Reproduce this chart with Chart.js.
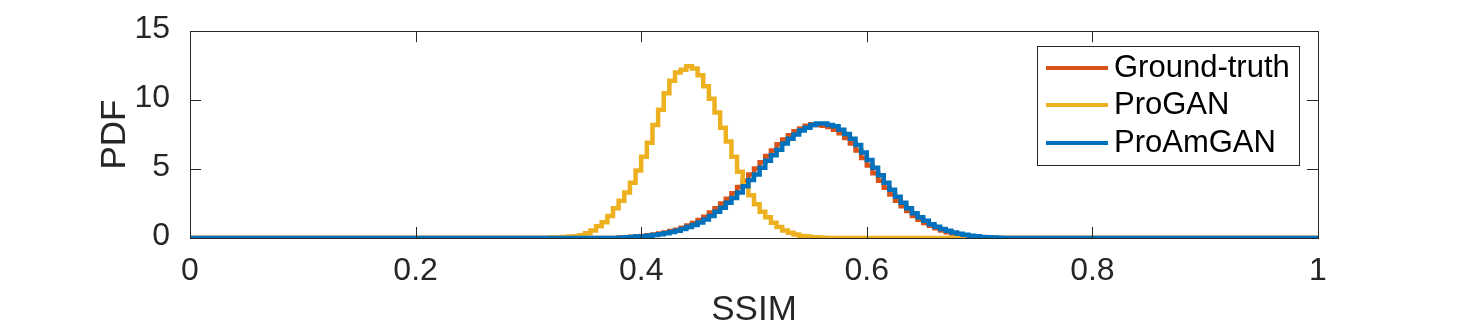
<!DOCTYPE html>
<html>
<head>
<meta charset="utf-8">
<script src="https://cdn.jsdelivr.net/npm/chart.js@4/dist/chart.umd.min.js"></script>
<style>
  html, body { margin: 0; padding: 0; background: #fff; }
  canvas { display: block; }
</style>
</head>
<body>
<canvas id="pdfChart" width="1458" height="333"></canvas>
<script>
(function() {
    'use strict';

    // tick labels
    const xTickValues = [0, 0.2, 0.4, 0.6, 0.8, 1];
    const yTickValues = [0, 5, 10, 15];

    // histogram bins (left edges start at *Start, width binWidth)
    const binWidth = 0.005;

    const groundTruthStart = 0.380;
    const groundTruthPdf = [
        0.03, 0.06, 0.09, 0.12, 0.15, 0.20, 0.26, 0.33, 0.40, 0.50,
        0.60, 0.75, 0.90, 1.08, 1.30, 1.55, 1.85, 2.15, 2.50, 2.85,
        3.25, 3.70, 4.15, 4.60, 5.05, 5.50, 5.95, 6.35, 6.80, 7.15,
        7.45, 7.75, 7.95, 8.15, 8.25, 8.20, 8.15, 8.05, 7.85, 7.60,
        7.25, 6.85, 6.35, 5.80, 5.25, 4.70, 4.15, 3.65, 3.15, 2.70,
        2.30, 1.95, 1.60, 1.32, 1.08, 0.88, 0.70, 0.55, 0.42, 0.32,
        0.24, 0.17, 0.12, 0.08, 0.05, 0.03, 0.01
    ];

    const proGanStart = 0.320;
    const proGanPdf = [
        0.05, 0.06, 0.08, 0.10, 0.13, 0.20, 0.35, 0.55, 0.85, 1.15,
        1.60, 2.15, 2.70, 3.30, 4.00, 4.90, 5.90, 6.90, 8.20, 9.30,
        10.5, 11.4, 12.0, 12.2, 12.45, 12.3, 11.8, 11.0, 10.1, 9.10,
        8.00, 7.00, 5.90, 4.80, 3.90, 3.10, 2.45, 1.90, 1.50, 1.10,
        0.80, 0.55, 0.38, 0.25, 0.15, 0.10, 0.06, 0.04, 0.02
    ];

    const proAmGanStart = 0.380;
    const proAmGanPdf = [
        0.02, 0.05, 0.08, 0.10, 0.13, 0.17, 0.22, 0.28, 0.35, 0.43,
        0.52, 0.65, 0.80, 0.95, 1.12, 1.35, 1.60, 1.90, 2.20, 2.55,
        2.90, 3.30, 3.75, 4.20, 4.60, 5.10, 5.60, 6.00, 6.40, 6.85,
        7.20, 7.50, 7.80, 8.00, 8.20, 8.30, 8.30, 8.20, 8.10, 7.85,
        7.55, 7.20, 6.75, 6.20, 5.65, 5.10, 4.55, 4.00, 3.50, 3.00,
        2.55, 2.15, 1.80, 1.50, 1.25, 1.00, 0.82, 0.66, 0.52, 0.40,
        0.30, 0.23, 0.17, 0.12, 0.08, 0.05, 0.03, 0.02
    ];

    const COLORS = {
        groundTruth: '#D95319',
        proGan: '#EDB120',
        proAmGan: '#0072BD',
        axis: '#262626'
    };

    const FONT = '"Liberation Sans", Arial, Helvetica, sans-serif';

    // turn bin values into step points spanning the whole [0, 1] range
    function toSteps(start, values) {
        const pts = [{ x: 0, y: 0 }];
        values.forEach(function(v, i) {
            pts.push({ x: start + i * binWidth, y: v });
        });
        pts.push({ x: start + values.length * binWidth, y: 0 });
        pts.push({ x: 1, y: 0 });
        return pts;
    }

    // lower order is drawn on top, so the last series plotted ends up uppermost
    function series(label, start, values, color, order) {
        return {
            label: label,
            data: toSteps(start, values),
            borderColor: color,
            backgroundColor: color,
            borderWidth: 4.5,
            stepped: true,
            pointRadius: 0,
            fill: false,
            order: order,
            borderJoinStyle: 'miter'
        };
    }

    // MATLAB style box with inward ticks on all four sides
    const axesBox = {
        id: 'axesBox',
        afterDatasetsDraw: function(chart) {
            const ctx = chart.ctx;
            const a = chart.chartArea;
            const xs = chart.scales.x;
            const ys = chart.scales.y;
            const len = 11;
            ctx.save();
            ctx.strokeStyle = COLORS.axis;
            ctx.lineWidth = 1;
            ctx.beginPath();
            xTickValues.forEach(function(v) {
                const px = Math.round(xs.getPixelForValue(v)) + 0.5;
                ctx.moveTo(px, a.bottom);
                ctx.lineTo(px, a.bottom - len);
                ctx.moveTo(px, a.top);
                ctx.lineTo(px, a.top + len);
            });
            yTickValues.forEach(function(v) {
                const py = Math.round(ys.getPixelForValue(v)) + 0.5;
                ctx.moveTo(a.left, py);
                ctx.lineTo(a.left + len, py);
                ctx.moveTo(a.right, py);
                ctx.lineTo(a.right - len, py);
            });
            ctx.stroke();
            ctx.strokeRect(Math.round(a.left) + 0.5, Math.round(a.top) + 0.5,
                Math.round(a.right - a.left), Math.round(a.bottom - a.top));
            ctx.restore();
        }
    };

    // legend box in the upper right of the axes
    const boxLegend = {
        id: 'boxLegend',
        afterDraw: function(chart) {
            const ctx = chart.ctx;
            const left = 1037, top = 46, w = 262, h = 119;
            const rowY = [68, 105, 143];
            ctx.save();
            ctx.fillStyle = '#fff';
            ctx.fillRect(left, top, w, h);
            ctx.strokeStyle = COLORS.axis;
            ctx.lineWidth = 1;
            ctx.strokeRect(left + 0.5, top + 0.5, w, h);
            ctx.font = '31px ' + FONT;
            ctx.textBaseline = 'middle';
            chart.data.datasets.forEach(function(ds, i) {
                ctx.strokeStyle = ds.borderColor;
                ctx.lineWidth = 4;
                ctx.beginPath();
                ctx.moveTo(1046, rowY[i]);
                ctx.lineTo(1108, rowY[i]);
                ctx.stroke();
                ctx.fillStyle = '#000';
                ctx.fillText(ds.label, 1114, rowY[i]);
            });
            ctx.restore();
        }
    };

    const ctx = document.getElementById('pdfChart').getContext('2d');

    new Chart(ctx, {
        type: 'line',
        data: {
            datasets: [
                series('Ground-truth', groundTruthStart, groundTruthPdf, COLORS.groundTruth, 3),
                series('ProGAN', proGanStart, proGanPdf, COLORS.proGan, 2),
                series('ProAmGAN', proAmGanStart, proAmGanPdf, COLORS.proAmGan, 1)
            ]
        },
        options: {
            responsive: false,
            animation: false,
            layout: {
                padding: { left: 0, top: 24, right: 140, bottom: 0 }
            },
            plugins: {
                legend: { display: false },
                tooltip: { enabled: false }
            },
            scales: {
                x: {
                    type: 'linear',
                    min: 0,
                    max: 1,
                    afterBuildTicks: function(scale) {
                        scale.ticks = xTickValues.map(function(v) { return { value: v }; });
                    },
                    afterFit: function(scale) { scale.height = 95; },
                    grid: { display: false },
                    border: { display: false },
                    ticks: {
                        autoSkip: false,
                        maxRotation: 0,
                        padding: 6,
                        color: COLORS.axis,
                        font: { family: FONT, size: 32 },
                        callback: function(v) { return String(v); }
                    },
                    title: {
                        display: true,
                        text: 'SSIM',
                        color: COLORS.axis,
                        font: { family: FONT, size: 35 },
                        padding: { top: 0, bottom: 2 }
                    }
                },
                y: {
                    type: 'linear',
                    min: 0,
                    max: 15,
                    afterBuildTicks: function(scale) {
                        scale.ticks = yTickValues.map(function(v) { return { value: v }; });
                    },
                    afterFit: function(scale) { scale.width = 190; },
                    grid: { display: false },
                    border: { display: false },
                    ticks: {
                        padding: 12,
                        labelOffset: -2,
                        color: COLORS.axis,
                        font: { family: FONT, size: 32 }
                    },
                    title: {
                        display: true,
                        text: 'PDF',
                        color: COLORS.axis,
                        font: { family: FONT, size: 35 },
                        padding: { top: 94, bottom: 0 }
                    }
                }
            }
        },
        plugins: [axesBox, boxLegend]
    });
})();
</script>
</body>
</html>
